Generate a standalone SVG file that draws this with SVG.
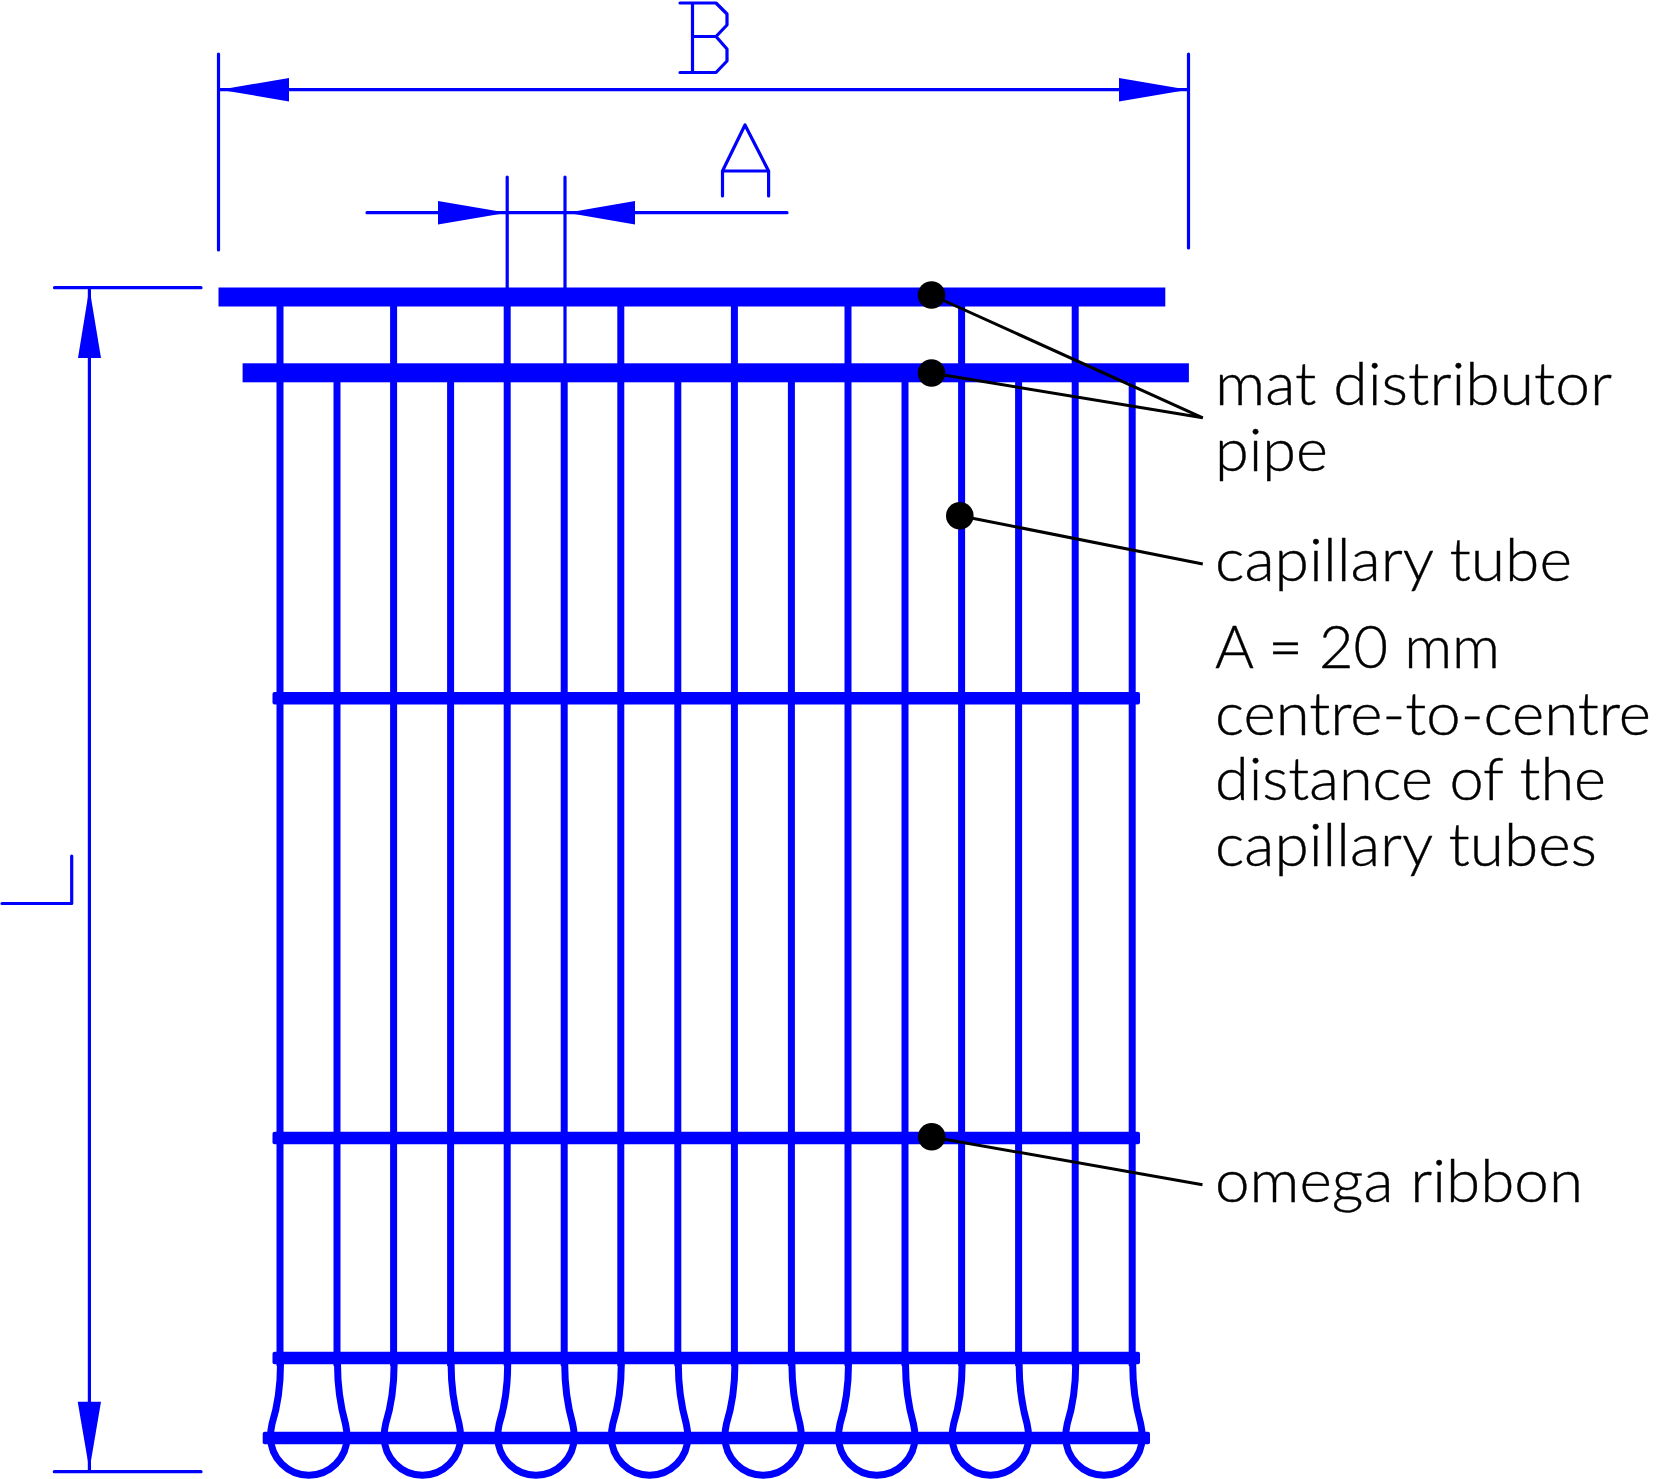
<svg xmlns="http://www.w3.org/2000/svg" width="1679" height="1479" viewBox="0 0 1679 1479">
<style>
.dim{fill:none;stroke:#0000ff;stroke-width:3.2;stroke-linecap:round;stroke-linejoin:round}
.head{fill:#0000ff;stroke:none}
.pipe{fill:#0000ff;stroke:none}
.tube{fill:none;stroke:#0000ff;stroke-width:7}
.rib{fill:#0000ff;stroke:none}
.lead{fill:none;stroke:#000;stroke-width:3}
.dot{fill:#000}
text{font-family:"Lato","Noto Sans",sans-serif;font-weight:300;font-size:60px;fill:#000;stroke:#000;stroke-width:.4}
</style>
<defs>
<path id="lp" d="M280.5 1364C280.5 1392 277 1408 272 1424C270.8 1429 270.6 1433 270.6 1437A38.2 38.2 0 0 0 347 1437C347 1433 346.6 1429 345.5 1424C341 1408 337.5 1392 337.5 1364"/>
</defs>
<rect width="1679" height="1479" fill="#fff"/>
<g id="tubes">
<path class="tube" d="M280 300V1366M393.6 300V1366M507.2 300V1366M620.8 300V1366M734.4 300V1366M848 300V1366M961.6 300V1366M1075.2 300V1366"/>
<path class="tube" d="M337 375V1366M450.6 375V1366M564.2 375V1366M677.8 375V1366M791.4 375V1366M905 375V1366M1018.6 375V1366M1132.2 375V1366"/>
</g>
<g id="loops">
<use href="#lp" class="tube"/>
<use href="#lp" class="tube" x="113.6"/>
<use href="#lp" class="tube" x="227.2"/>
<use href="#lp" class="tube" x="340.8"/>
<use href="#lp" class="tube" x="454.4"/>
<use href="#lp" class="tube" x="568"/>
<use href="#lp" class="tube" x="681.6"/>
<use href="#lp" class="tube" x="795.2"/>
</g>
<g id="dimensions">
<path class="dim" d="M218.5 54V250M1188.5 54V248M220 89.7H1187"/>
<polygon class="head" points="220,89.7 289,78 289,101.5"/>
<polygon class="head" points="1188,89.7 1119,78 1119,101.5"/>
<path class="dim" d="M367 212.7H787M507.2 177V288M565 177V365"/>
<polygon class="head" points="507,212.7 438,201 438,224.5"/>
<polygon class="head" points="567,212.7 635,201 635,224.5"/>
<path class="dim" d="M54.5 287.7H201M89.4 290V1470M54.3 1471.7H201"/>
<polygon class="head" points="89.4,288 78,358 101,358"/>
<polygon class="head" points="89.4,1470 77.7,1401.7 101,1401.7"/>
</g>
<g id="pipe-1"><rect class="pipe" x="218.5" y="287.5" width="946.8" height="19"/></g>
<g id="pipe-2"><rect class="pipe" x="242.6" y="363.3" width="946.3" height="19"/></g>
<g id="ribbon-1"><rect class="rib" x="272.5" y="692" width="867.5" height="12.5" rx="2"/></g>
<g id="ribbon-2"><rect class="rib" x="272.5" y="1131.7" width="867.5" height="12.5" rx="2"/></g>
<g id="ribbon-3"><rect class="rib" x="272.5" y="1351.7" width="867.5" height="12.5" rx="2"/></g>
<g id="ribbon-4"><rect class="rib" x="262.7" y="1431.7" width="887.3" height="12.5" rx="2"/></g>
<g id="dim-B"><path class="dim" d="M692.5 3V72.5M680 3H716L727 14V25L716 36.5L727 49V61L716 72.5H680M692.5 36.5H716"/></g>
<g id="dim-A"><path class="dim" d="M722.5 196V171L745 125L768.6 171V196M722.5 171H768.6"/></g>
<g id="dim-L"><path class="dim" d="M71.7 856V903.5H2"/></g>
<g id="leaders">
<path class="lead" d="M931.5 295L1202.8 417.8L931.5 373"/>
<path class="lead" d="M959.8 515.7L1202.8 564"/>
<path class="lead" d="M931.7 1137L1202.5 1184.7"/>
</g>
<g id="dot-1"><circle class="dot" cx="931.5" cy="295" r="13.8"/></g>
<g id="dot-2"><circle class="dot" cx="931.5" cy="373" r="13.8"/></g>
<g id="dot-3"><circle class="dot" cx="959.8" cy="515.7" r="13.8"/></g>
<g id="dot-4"><circle class="dot" cx="931.7" cy="1136.7" r="13.8"/></g>
<g id="label-mat"><text x="1215" y="405" textLength="397" lengthAdjust="spacingAndGlyphs">mat distributor</text><text x="1215" y="471" textLength="113" lengthAdjust="spacingAndGlyphs">pipe</text></g>
<g id="label-cap"><text x="1215" y="581" textLength="357" lengthAdjust="spacingAndGlyphs">capillary tube</text></g>
<g id="label-A"><text x="1215" y="668" textLength="285" lengthAdjust="spacingAndGlyphs">A = 20 mm</text><text x="1215" y="734.5" textLength="436" lengthAdjust="spacingAndGlyphs">centre-to-centre</text><text x="1215" y="800" textLength="391" lengthAdjust="spacingAndGlyphs">distance of the</text><text x="1215" y="866" textLength="382" lengthAdjust="spacingAndGlyphs">capillary tubes</text></g>
<g id="label-omega"><text x="1215" y="1202" textLength="368" lengthAdjust="spacingAndGlyphs">omega ribbon</text></g>
</svg>
